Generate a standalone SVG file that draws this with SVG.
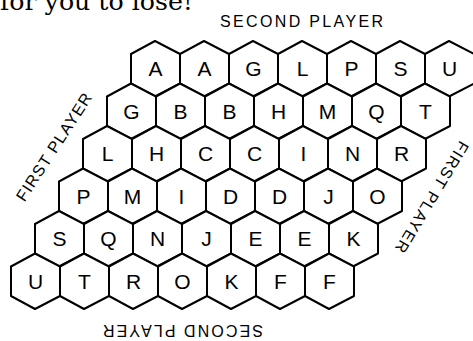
<svg xmlns="http://www.w3.org/2000/svg" xmlns:xlink="http://www.w3.org/1999/xlink" width="473" height="341" viewBox="0 0 473 341">
<defs>
<path id="hex" d="M0,-27.75 L25,-14.75 L25,14.75 L0,27.75 L-24,14.75 L-24,-14.75 Z"/>
</defs>
<style>
.h{fill:#fff;stroke:#000;stroke-width:2;stroke-linejoin:round}
.t{font-family:"Liberation Sans",Arial,sans-serif;font-size:21px;text-anchor:middle;fill:#000}
.lb{font-family:"Liberation Sans",Arial,sans-serif;font-size:16px;text-anchor:middle;fill:#000}
.cap{font-family:"DejaVu Serif","Liberation Serif",serif;font-size:24px;fill:#000}
</style>
<rect width="473" height="341" fill="#fff"/>
<text class="cap" x="0" y="10" textLength="193" lengthAdjust="spacingAndGlyphs">for you to lose!</text>
<g id="labels">
<text class="lb" x="301.5" y="26.5" font-size="17" textLength="163" lengthAdjust="spacing">SECOND PLAYER</text>
<text class="lb" transform="translate(183,330.5) rotate(180)" y="6" font-size="17" textLength="160" lengthAdjust="spacing">SECOND PLAYER</text>
<text class="lb" transform="translate(54,147) rotate(-57)" y="5.5" textLength="125" lengthAdjust="spacing">FIRST PLAYER</text>
<text class="lb" transform="translate(432,197) rotate(121)" y="5.5" textLength="127" lengthAdjust="spacing">FIRST PLAYER</text>
</g>
<g id="board">
<g id="r0c0"><use href="#hex" class="h" x="155" y="68.75"/><text class="t" x="155.5" y="76.25">A</text></g>
<g id="r0c1"><use href="#hex" class="h" x="204" y="68.75"/><text class="t" x="204.5" y="76.25">A</text></g>
<g id="r0c2"><use href="#hex" class="h" x="253" y="68.75"/><text class="t" x="253.5" y="76.25">G</text></g>
<g id="r0c3"><use href="#hex" class="h" x="302" y="68.75"/><text class="t" x="302.5" y="76.25">L</text></g>
<g id="r0c4"><use href="#hex" class="h" x="351" y="68.75"/><text class="t" x="351.5" y="76.25">P</text></g>
<g id="r0c5"><use href="#hex" class="h" x="400" y="68.75"/><text class="t" x="400.5" y="76.25">S</text></g>
<g id="r0c6"><use href="#hex" class="h" x="449" y="68.75"/><text class="t" x="449.5" y="76.25">U</text></g>

<g id="r1c0"><use href="#hex" class="h" x="131" y="111.25"/><text class="t" x="131.5" y="118.75">G</text></g>
<g id="r1c1"><use href="#hex" class="h" x="180" y="111.25"/><text class="t" x="180.5" y="118.75">B</text></g>
<g id="r1c2"><use href="#hex" class="h" x="229" y="111.25"/><text class="t" x="229.5" y="118.75">B</text></g>
<g id="r1c3"><use href="#hex" class="h" x="278" y="111.25"/><text class="t" x="278.5" y="118.75">H</text></g>
<g id="r1c4"><use href="#hex" class="h" x="327" y="111.25"/><text class="t" x="327.5" y="118.75">M</text></g>
<g id="r1c5"><use href="#hex" class="h" x="376" y="111.25"/><text class="t" x="376.5" y="118.75">Q</text></g>
<g id="r1c6"><use href="#hex" class="h" x="425" y="111.25"/><text class="t" x="425.5" y="118.75">T</text></g>

<g id="r2c0"><use href="#hex" class="h" x="107" y="153.75"/><text class="t" x="107.5" y="161.25">L</text></g>
<g id="r2c1"><use href="#hex" class="h" x="156" y="153.75"/><text class="t" x="156.5" y="161.25">H</text></g>
<g id="r2c2"><use href="#hex" class="h" x="205" y="153.75"/><text class="t" x="205.5" y="161.25">C</text></g>
<g id="r2c3"><use href="#hex" class="h" x="254" y="153.75"/><text class="t" x="254.5" y="161.25">C</text></g>
<g id="r2c4"><use href="#hex" class="h" x="303" y="153.75"/><text class="t" x="303.5" y="161.25">I</text></g>
<g id="r2c5"><use href="#hex" class="h" x="352" y="153.75"/><text class="t" x="352.5" y="161.25">N</text></g>
<g id="r2c6"><use href="#hex" class="h" x="401" y="153.75"/><text class="t" x="401.5" y="161.25">R</text></g>

<g id="r3c0"><use href="#hex" class="h" x="83" y="196.25"/><text class="t" x="83.5" y="203.75">P</text></g>
<g id="r3c1"><use href="#hex" class="h" x="132" y="196.25"/><text class="t" x="132.5" y="203.75">M</text></g>
<g id="r3c2"><use href="#hex" class="h" x="181" y="196.25"/><text class="t" x="181.5" y="203.75">I</text></g>
<g id="r3c3"><use href="#hex" class="h" x="230" y="196.25"/><text class="t" x="230.5" y="203.75">D</text></g>
<g id="r3c4"><use href="#hex" class="h" x="279" y="196.25"/><text class="t" x="279.5" y="203.75">D</text></g>
<g id="r3c5"><use href="#hex" class="h" x="328" y="196.25"/><text class="t" x="328.5" y="203.75">J</text></g>
<g id="r3c6"><use href="#hex" class="h" x="377" y="196.25"/><text class="t" x="377.5" y="203.75">O</text></g>

<g id="r4c0"><use href="#hex" class="h" x="59" y="238.75"/><text class="t" x="59.5" y="246.25">S</text></g>
<g id="r4c1"><use href="#hex" class="h" x="108" y="238.75"/><text class="t" x="108.5" y="246.25">Q</text></g>
<g id="r4c2"><use href="#hex" class="h" x="157" y="238.75"/><text class="t" x="157.5" y="246.25">N</text></g>
<g id="r4c3"><use href="#hex" class="h" x="206" y="238.75"/><text class="t" x="206.5" y="246.25">J</text></g>
<g id="r4c4"><use href="#hex" class="h" x="255" y="238.75"/><text class="t" x="255.5" y="246.25">E</text></g>
<g id="r4c5"><use href="#hex" class="h" x="304" y="238.75"/><text class="t" x="304.5" y="246.25">E</text></g>
<g id="r4c6"><use href="#hex" class="h" x="353" y="238.75"/><text class="t" x="353.5" y="246.25">K</text></g>

<g id="r5c0"><use href="#hex" class="h" x="35" y="281.25"/><text class="t" x="35.5" y="288.75">U</text></g>
<g id="r5c1"><use href="#hex" class="h" x="84" y="281.25"/><text class="t" x="84.5" y="288.75">T</text></g>
<g id="r5c2"><use href="#hex" class="h" x="133" y="281.25"/><text class="t" x="133.5" y="288.75">R</text></g>
<g id="r5c3"><use href="#hex" class="h" x="182" y="281.25"/><text class="t" x="182.5" y="288.75">O</text></g>
<g id="r5c4"><use href="#hex" class="h" x="231" y="281.25"/><text class="t" x="231.5" y="288.75">K</text></g>
<g id="r5c5"><use href="#hex" class="h" x="280" y="281.25"/><text class="t" x="280.5" y="288.75">F</text></g>
<g id="r5c6"><use href="#hex" class="h" x="329" y="281.25"/><text class="t" x="329.5" y="288.75">F</text></g>
</g>
</svg>
